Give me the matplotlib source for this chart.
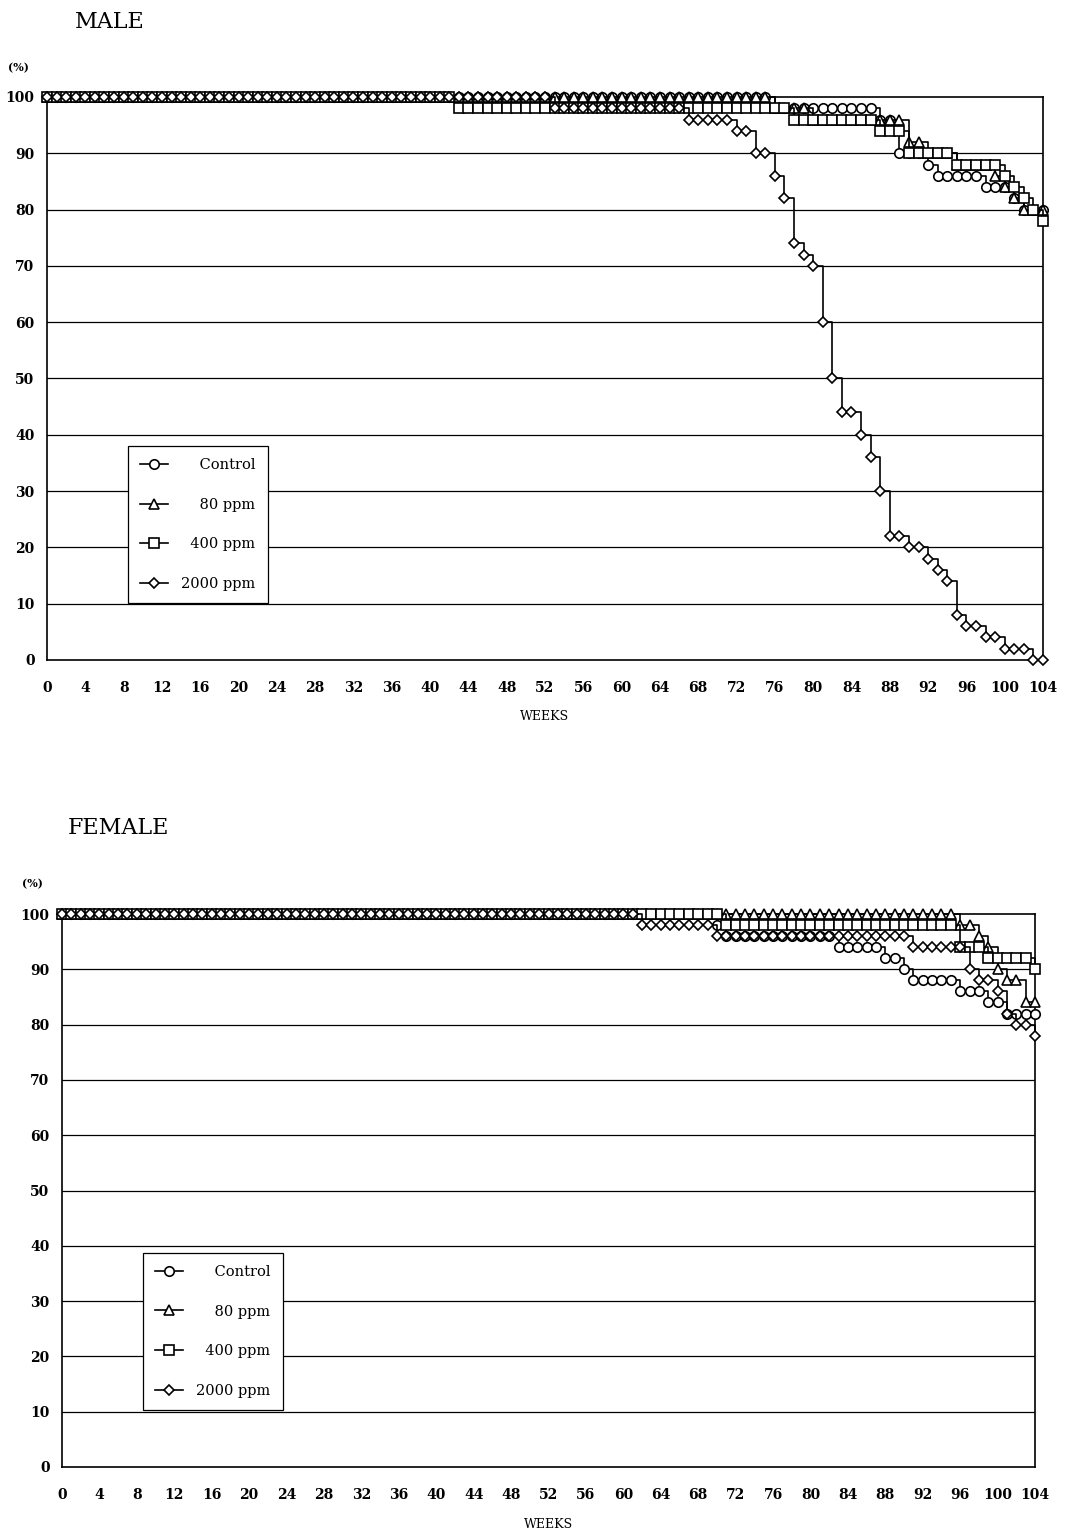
import numpy as np
import matplotlib
matplotlib.use("Agg")
import matplotlib.pyplot as plt
from matplotlib.lines import Line2D

plt.rcParams['font.family'] = ['DejaVu Serif']

weeks_all = np.arange(0, 105)
group_labels = ["Control", "80 ppm", "400 ppm", "2000 ppm"]
legend_texts = ["    Control", "    80 ppm", "  400 ppm", "2000 ppm"]
group_markers = ["o", "^", "s", "D"]
x_ticks = list(range(0, 105, 4))
y_ticks = list(range(0, 101, 10))

# Male: weeks at which survival (%) changes, and the new value
male_control_weeks = [0, 76, 87, 89, 92, 93, 98, 101, 102]
male_control_pct = [100, 98, 96, 90, 88, 86, 84, 82, 80]
male_80_weeks = [0, 76, 80, 90, 92, 95, 99, 100, 101, 102]
male_80_pct = [100, 98, 96, 92, 90, 88, 86, 84, 82, 80]
male_400_weeks = [0, 43, 78, 87, 90, 95, 100, 101, 102, 103, 104]
male_400_pct = [100, 98, 96, 94, 90, 88, 86, 84, 82, 80, 78]
male_2000_weeks = [0, 53, 67, 72, 74, 76, 77, 78, 79, 80, 81, 82, 83, 85, 86,
                   87, 88, 90, 92, 93, 94, 95, 96, 98, 100, 103]
male_2000_pct = [100, 98, 96, 94, 90, 86, 82, 74, 72, 70, 60, 50, 44, 40, 36,
                 30, 22, 20, 18, 16, 14, 8, 6, 4, 2, 0]

# Female
female_control_weeks = [0, 70, 71, 83, 88, 90, 91, 96, 99, 101]
female_control_pct = [100, 98, 96, 94, 92, 90, 88, 86, 84, 82]
female_80_weeks = [0, 96, 98, 99, 100, 101, 103]
female_80_pct = [100, 98, 96, 94, 90, 88, 84]
female_400_weeks = [0, 71, 96, 99, 104]
female_400_pct = [100, 98, 94, 92, 90]
female_2000_weeks = [0, 62, 70, 91, 97, 98, 100, 101, 102, 104]
female_2000_pct = [100, 98, 96, 94, 90, 88, 86, 82, 80, 78]


def weekly(change_weeks, change_pct):
    idx = np.searchsorted(change_weeks, weeks_all, side='right') - 1
    return np.asarray(change_pct)[idx]


fig = plt.figure(figsize=(10.65, 15.34), dpi=100)


def panel(rect, series, title, title_xy, pct_xy, weeks_y, legend_anchor):
    ax = fig.add_axes(rect)
    for (wk, pc), mk, lab in zip(series, group_markers, group_labels):
        ms = 6.8 if mk != "D" else 5.4
        ax.plot(weeks_all, weekly(wk, pc), drawstyle='steps-post', color='black',
                lw=1.2, marker=mk, ms=ms, mfc='white', mec='black', mew=1.2,
                clip_on=False, zorder=3, label=lab)
    ax.set_xlim(0, 104)
    ax.set_ylim(0, 100)
    ax.set_xticks(x_ticks)
    ax.set_yticks(y_ticks)
    ax.tick_params(axis='both', length=0, labelsize=10)
    ax.tick_params(axis='x', pad=15)
    ax.tick_params(axis='y', pad=9)
    for lbl in ax.get_xticklabels() + ax.get_yticklabels():
        lbl.set_fontweight('bold')
    for y in y_ticks[1:-1]:
        ax.axhline(y, color='black', lw=0.9, zorder=1)
    for s in ax.spines.values():
        s.set_color('black')
        s.set_linewidth(1.2)
    fig.text(title_xy[0], title_xy[1], title, fontsize=16, ha='left', va='center')
    fig.text(pct_xy[0], pct_xy[1], "(%)", fontsize=8, ha='left', va='center',
             fontweight='bold')
    fig.text((rect[0] + rect[0] + rect[2]) / 2, weeks_y, "WEEKS", fontsize=9,
             ha='center', va='center')
    handles = [Line2D([], [], color='black', lw=1.2, marker=mk,
                      ms=(6.8 if mk != "D" else 5.4), mfc='white', mec='black',
                      mew=1.2) for mk in group_markers]
    leg = ax.legend(handles, legend_texts, loc='lower left',
                    bbox_to_anchor=legend_anchor, frameon=True, fancybox=False,
                    edgecolor='black', framealpha=1, fontsize=10.5,
                    labelspacing=1.75, handlelength=1.9, borderpad=0.85,
                    handletextpad=0.9, borderaxespad=0)
    leg.get_frame().set_linewidth(0.9)
    leg.set_zorder(5)
    return ax


W, H = 1065.0, 1534.0
male_rect = [47 / W, 1 - 660 / H, 996 / W, 563 / H]
female_rect = [62 / W, 1 - 1467 / H, 973 / W, 553 / H]

panel(male_rect,
      [(male_control_weeks, male_control_pct), (male_80_weeks, male_80_pct),
       (male_400_weeks, male_400_pct), (male_2000_weeks, male_2000_pct)],
      "MALE", (75 / W, 1 - 22 / H), (8 / W, 1 - 68 / H), 1 - 716 / H,
      (0.081, 0.101))

panel(female_rect,
      [(female_control_weeks, female_control_pct), (female_80_weeks, female_80_pct),
       (female_400_weeks, female_400_pct), (female_2000_weeks, female_2000_pct)],
      "FEMALE", (68 / W, 1 - 828 / H), (22 / W, 1 - 884 / H), 1 - 1524 / H,
      (0.083, 0.103))

fig.savefig("out.png", dpi=100)
